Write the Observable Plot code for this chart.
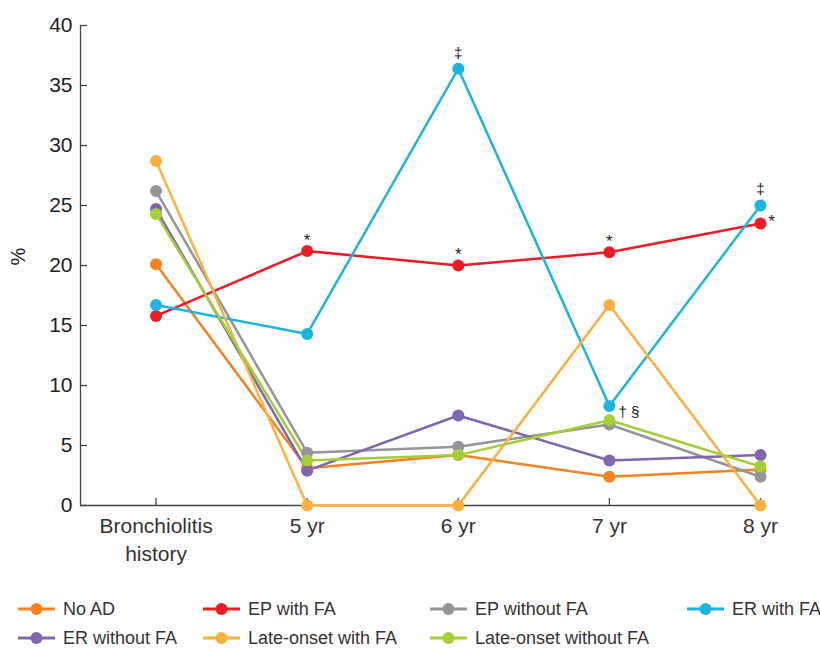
<!DOCTYPE html>
<html><head><meta charset="utf-8">
<script src="https://cdn.jsdelivr.net/npm/d3@7"></script>
<script src="https://cdn.jsdelivr.net/npm/@observablehq/plot@0.6"></script>
<style>
body{margin:0;background:#fff;font-family:"Liberation Sans",Arial,sans-serif;overflow:hidden;}
#chart{width:820px;height:580px;}
#legend{position:relative;width:820px;height:68px;font-family:"Liberation Sans",Arial,sans-serif;font-size:18px;color:#333;}
.item{position:absolute;display:flex;align-items:center;height:18px;line-height:18px;white-space:nowrap;}
.item svg{margin-right:8px;}
</style></head><body><div id="chart"></div><div id="legend"></div>
<script>
const categories = ["Bronchiolitis\nhistory", "5 yr", "6 yr", "7 yr", "8 yr"];
const seriesNames = ["No AD", "EP with FA", "EP without FA", "ER with FA", "ER without FA", "Late-onset with FA", "Late-onset without FA"];
const seriesColors = ["#F58220", "#ED1C24", "#939598", "#1CB5E0", "#7E67AE", "#FBB040", "#A6CE39"];
const noAD = [20.1, 3.1, 4.2, 2.4, 3.0];
const epWithFA = [15.8, 21.2, 20.0, 21.1, 23.5];
const epWithoutFA = [26.2, 4.4, 4.9, 6.75, 2.4];
const erWithFA = [16.7, 14.3, 36.4, 8.3, 25.0];
const erWithoutFA = [24.7, 2.9, 7.5, 3.75, 4.2];
const lateWithFA = [28.7, 0, 0, 16.7, 0];
const lateWithoutFA = [24.3, 3.75, 4.2, 7.1, 3.25];
const yTicks = [0, 5, 10, 15, 20, 25, 30, 35, 40];
// annotations: [series index, category index, symbol]
const starNotes = [[1, 1, "*"], [1, 2, "*"], [1, 3, "*"]];
const starRight = [[1, 4, "*"]];
const ddaggerNotes = [[3, 2, "‡"], [3, 4, "‡"]];
const daggerNotes = [[6, 3, "† §"]];

const allSeries = [noAD, epWithFA, epWithoutFA, erWithFA, erWithoutFA, lateWithFA, lateWithoutFA];
const data = [];
allSeries.forEach((vals, s) => vals.forEach((v, i) => data.push({series: seriesNames[s], i, v})));
const note = arr => arr.map(([s, i, t]) => ({i, v: allSeries[s][i], t}));

const chart = Plot.plot({
  width: 820, height: 580,
  marginTop: 25, marginBottom: 75, marginLeft: 80, marginRight: 60,
  style: {fontFamily: "'Liberation Sans', Arial, sans-serif", fontSize: "21px", color: "#222", background: "#fff"},
  x: {type: "linear", domain: [-0.5, 4]},
  y: {domain: [0, 40]},
  color: {domain: seriesNames, range: seriesColors},
  marks: [
    Plot.ruleY([0], {stroke: "#444", strokeWidth: 1.3}),
    Plot.ruleX([-0.5], {stroke: "#444", strokeWidth: 1.3}),
    Plot.axisY(yTicks, {tickSize: 0, tickPadding: 8, fontSize: 21, fill: "#222", label: null}),
    Plot.axisY(yTicks, {tickSize: -7, text: null, stroke: "#444", strokeWidth: 1.3, label: null}),
    Plot.axisX([0, 1, 2, 3, 4], {tickSize: 0, tickPadding: 8, tickFormat: i => categories[i], fontSize: 21, lineHeight: 1.33, fill: "#333", label: null}),
    Plot.axisX([0, 1, 2, 3, 4], {tickSize: -7, text: null, stroke: "#444", strokeWidth: 1.3, label: null}),
    Plot.text(["%"], {frameAnchor: "left", rotate: -90, dx: -62, fontSize: 20, fill: "#222"}),
    Plot.line(data, {x: "i", y: "v", z: "series", stroke: "series", strokeWidth: 2.5}),
    Plot.dot(data, {x: "i", y: "v", fill: "series", r: 6}),
    Plot.text(note(starNotes), {x: "i", y: "v", text: "t", dy: -11, fontSize: 17, fill: "#222"}),
    Plot.text(note(starRight), {x: "i", y: "v", text: "t", dx: 11, dy: -2, fontSize: 17, fill: "#222"}),
    Plot.text(note(ddaggerNotes), {x: "i", y: "v", text: "t", dy: -16, fontSize: 15, fill: "#222"}),
    Plot.text(note(daggerNotes), {x: "i", y: "v", text: "t", dx: 9, dy: -8, textAnchor: "start", fontSize: 15, fill: "#222"})
  ]
});
document.getElementById("chart").appendChild(chart);

const legend = document.getElementById("legend");
const legendCols = [18, 203, 430, 687];
seriesNames.forEach((name, k) => {
  const row = Math.floor(k / 4), col = k % 4;
  const div = document.createElement("div");
  div.className = "item";
  div.style.left = legendCols[col] + "px";
  div.style.top = (20 + row * 29) + "px";
  div.innerHTML = `<svg width="37" height="14"><line x1="0" y1="7" x2="37" y2="7" stroke="${seriesColors[k]}" stroke-width="3"/><circle cx="18.5" cy="7" r="6" fill="${seriesColors[k]}"/></svg><span>${name}</span>`;
  legend.appendChild(div);
});
</script></body></html>
